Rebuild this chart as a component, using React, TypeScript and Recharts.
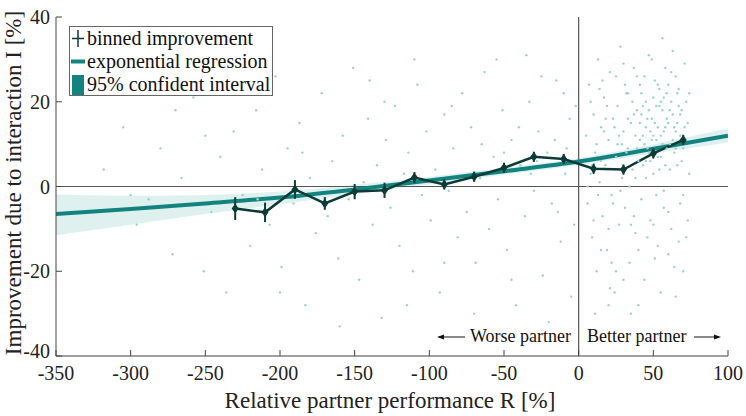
import React from "react";
import {
  Area,
  ComposedChart,
  ErrorBar,
  Line,
  ReferenceLine,
  Scatter,
  XAxis,
  YAxis,
} from "recharts";

const FONT =
  '"Liberation Serif", "DejaVu Serif", "Noto Serif", "FreeSerif", "Nimbus Roman", "Times New Roman", Times, serif';
const TEAL = "#12837f";
const DARK = "#0c3b37";
const DOT = "#9fd1cc";
const BAND = "#d8eeec";

const xTicks = [-350, -300, -250, -200, -150, -100, -50, 0, 50, 100];
const yTicks = [-40, -20, 0, 20, 40];

// binned improvement (bin centre, mean, error)
const binX = [-230, -210, -190, -170, -150, -130, -110, -90, -70, -50, -30, -10, 10, 30, 50, 70];
const binY = [-5.2, -6.1, -0.7, -4.0, -1.2, -0.9, 2.1, 0.5, 2.3, 4.4, 7.0, 6.5, 4.2, 4.0, 7.8, 11.0];
const binErr = [2.7, 2.3, 2.2, 1.5, 1.8, 1.8, 1.3, 1.2, 1.2, 1.2, 1.2, 1.2, 1.2, 1.2, 1.2, 1.2];

// regression curve and its 95% band
const fitX = [-350, -300, -250, -200, -150, -100, -50, 0, 50, 100];
const fitY = [-6.5, -5.3, -4.0, -2.6, -0.7, 1.4, 3.6, 5.9, 8.9, 12.0];
const bandLow = [-11.5, -9.0, -6.5, -4.2, -1.8, 0.5, 2.8, 5.1, 7.8, 10.4];
const bandHigh = [-1.9, -2.2, -2.0, -1.2, 0.4, 2.3, 4.4, 6.7, 10.0, 13.7];

// individual pairs (x, y)
const samples: [number, number][] = [
  [-318, 4], [-305, 14], [-296, -9], [-288, -3], [-280, 9], [-272, -16], [-266, 2], [-258, 21],
  [-251, -20], [-246, -6], [-240, 7], [-236, -25], [-231, 13], [-225, -2], [-220, -14], [-216, 18],
  [-212, 4], [-207, -9], [-203, 26], [-199, -19], [-195, 9], [-191, -4], [-187, 15], [-183, -28],
  [-180, 2], [-176, -11], [-172, 22], [-168, -7], [-165, 6], [-161, -17], [-158, 12], [-154, -3],
  [-151, 28], [-147, -22], [-144, 1], [-141, 16], [-138, -9], [-135, 5], [-132, -31], [-129, 11],
  [-126, -5], [-123, 19], [-120, -14], [-117, 3], [-114, 8], [-111, -20], [-108, 24], [-105, -2],
  [-102, 13], [-99, -8], [-96, 4], [-93, -25], [-90, 17], [-87, -1], [-84, 9], [-81, -12],
  [-78, 22], [-75, -6], [-72, 14], [-69, -18], [-66, 2], [-63, 27], [-60, -10], [-57, 7],
  [-54, -3], [-51, 18], [-48, -15], [-45, 11], [-42, -28], [-39, 5], [-36, -7], [-33, 20],
  [-30, -1], [-27, 13], [-24, -21], [-21, 8], [-18, -4], [-15, 25], [-12, -13], [-9, 3],
  [-6, 16], [-3, -9], [-55, 30], [-35, 31], [-20, -32], [-70, -30], [-110, 30], [-160, -33],
  [-250, 12], [-200, -25], [-140, 25], [-90, -18], [-45, -22], [-25, 26], [-10, 22], [-5, -26],
  [-65, 10], [-85, 19], [-115, -28], [-130, 20], [-185, 8], [-215, -3], [-300, -2], [-270, 18],
  [-40, 14], [-28, 6], [-16, 11], [-8, 9], [-2, 19], [-14, -6], [-32, 3], [-50, 8],
  [5, 12], [6, -4], [7, 24], [8, 3], [9, -12], [10, 17], [11, 8], [12, -20], [13, 30], [14, 1],
  [15, 14], [16, -7], [17, 21], [18, 5], [19, -15], [20, 11], [21, 27], [22, -2], [23, 16],
  [24, -25], [25, 7], [26, 19], [27, -9], [28, 33], [29, 2], [30, 13], [31, -5], [32, 22],
  [33, 9], [34, -18], [35, 15], [36, 4], [37, 28], [38, -11], [39, 18], [40, 6], [41, 24],
  [42, -3], [43, 12], [44, -22], [45, 20], [46, 9], [47, 31], [48, -8], [49, 16], [50, 3],
  [51, 25], [52, 11], [53, -14], [54, 19], [55, 7], [56, 35], [57, -1], [58, 14], [59, 22],
  [60, -6], [61, 10], [62, 27], [63, 17], [64, -19], [65, 13], [66, 5], [67, 23], [68, -4],
  [69, 18], [70, 9], [71, 29], [72, -12], [73, 15], [74, 3],
  [8, 20], [12, 10], [16, 25], [20, -10], [24, 14], [28, -1], [32, 8], [36, 20], [40, -28],
  [44, 26], [48, 13], [52, -2], [56, 18], [60, 24], [64, 8], [68, 12], [72, 20], [6, 0],
  [10, -8], [14, 23], [18, 16], [22, -18], [26, 10], [30, 29], [34, 0], [38, 12], [42, 17],
  [46, -12], [50, 21], [54, 4], [58, 28], [62, -10], [66, 15], [70, -2], [74, 22],
  [9, 5], [13, -2], [17, 13], [21, -24], [25, 26], [29, 10], [33, 16], [37, -7], [41, 11],
  [45, 2], [49, 30], [53, 14], [57, 21], [61, 4], [65, 26], [69, 6], [73, -8], [11, -30],
  [15, 6], [19, 19], [23, -4], [27, 12], [31, 24], [35, -9], [39, 26], [43, 5], [47, 18],
  [51, -17], [55, 12], [59, 9], [63, 32], [67, -13], [71, 14], [44, 10], [46, 16], [48, 6],
  [52, 19], [54, 23], [56, 10], [58, 5], [60, 15], [62, 20], [64, 14], [66, 22], [68, 17],
  [50, 12], [45, 14], [42, 22], [38, 2], [55, -25], [35, -30], [25, -20], [65, -26], [30, -22],
  [60, -16], [40, -15], [20, -28], [70, -20], [15, -15], [50, -9], [57, -5],
  [47, 8], [49, 11], [53, 7], [51, 15], [43, 19], [41, 15], [39, 9], [61, 18], [63, 11],
  [59, 16], [55, 20], [57, 13], [45, 6], [53, 24], [37, 17], [33, 22], [65, 9], [67, 19],
];

const binned = binX.map((x, i) => ({ x, y: binY[i], err: binErr[i] }));
const fit = fitX.map((x, i) => ({ x, fit: fitY[i], band: [bandLow[i], bandHigh[i]] }));
const points = samples.map(([x, y]) => ({ x, s: y }));

const tickStyle = { fontSize: 20, fill: "#222", fontFamily: FONT };

// y tick labels; the lowest one sits a little higher so it clears the x labels
const YTick = (props: any) => {
  const { x, y, payload } = props;
  const shift = payload.value === -40 ? -5 : 0;
  return (
    <text x={x} y={y + shift} dy="0.355em" textAnchor="end" {...tickStyle}>
      {payload.value}
    </text>
  );
};

const Diamond = (props: any) => {
  const { cx, cy } = props;
  if (cx == null || cy == null) return null;
  return <polygon points={`${cx},${cy - 5} ${cx + 3.5},${cy} ${cx},${cy + 5} ${cx - 3.5},${cy}`} fill={DARK} />;
};

const Dot = (props: any) => <circle cx={props.cx} cy={props.cy} r={1.2} fill={DOT} />;

function LegendBox() {
  const row = { height: 23, display: "flex", alignItems: "center" } as const;
  return (
    <div
      style={{
        position: "absolute",
        left: 69,
        top: 26,
        width: 202,
        height: 68,
        border: "1px solid #666",
        background: "#fff",
        fontFamily: FONT,
        fontSize: 20,
        color: "#111",
        lineHeight: "23px",
        whiteSpace: "nowrap",
      }}
    >
      <div style={row}>
        <svg width={17} height={23}>
          <line x1={8} x2={8} y1={3} y2={20} stroke={DARK} strokeWidth={1.5} />
          <line x1={2} x2={14} y1={11.5} y2={11.5} stroke={DARK} strokeWidth={1.5} />
        </svg>
        <span>binned improvement</span>
      </div>
      <div style={row}>
        <svg width={17} height={23}>
          <line x1={1} x2={15} y1={11.5} y2={11.5} stroke={TEAL} strokeWidth={4} />
        </svg>
        <span>exponential regression</span>
      </div>
      <div style={row}>
        <svg width={17} height={23}>
          <rect x={2} y={2} width={12} height={20} fill={TEAL} />
        </svg>
        <span>95% confident interval</span>
      </div>
    </div>
  );
}

export default function App() {
  return (
    <div style={{ position: "absolute", left: 0, top: 0, width: 746, height: 416, background: "#fff" }}>
      <ComposedChart width={746} height={416} margin={{ top: 17, right: 18, bottom: 0, left: 0 }}>
        <XAxis
          dataKey="x"
          type="number"
          domain={[-350, 100]}
          ticks={xTicks}
          allowDataOverflow
          height={60}
          tickSize={-6}
          tickMargin={16}
          stroke="#444"
          tick={tickStyle}
        />
        <XAxis
          xAxisId="top"
          orientation="top"
          dataKey="x"
          type="number"
          domain={[-350, 100]}
          ticks={xTicks}
          allowDataOverflow
          height={0}
          tickSize={-6}
          tickFormatter={() => ""}
          stroke="#444"
        />
        <YAxis
          type="number"
          domain={[-40, 40]}
          ticks={yTicks}
          allowDataOverflow
          width={56}
          tickSize={-6}
          tickMargin={12}
          stroke="#444"
          tick={<YTick />}
        />
        <YAxis
          yAxisId="right"
          orientation="right"
          type="number"
          domain={[-40, 40]}
          ticks={yTicks}
          allowDataOverflow
          width={0}
          tickSize={-6}
          tickFormatter={() => ""}
          stroke="#444"
        />
        <Scatter data={points} dataKey="s" shape={Dot} isAnimationActive={false} />
        <Area
          data={fit}
          dataKey="band"
          type="monotone"
          fill={BAND}
          fillOpacity={0.85}
          stroke="none"
          isAnimationActive={false}
        />
        <ReferenceLine y={0} stroke="#555" strokeWidth={1.2} />
        <ReferenceLine x={0} stroke="#555" strokeWidth={1.2} />
        <Line
          data={fit}
          dataKey="fit"
          type="monotone"
          stroke={TEAL}
          strokeWidth={4}
          dot={false}
          isAnimationActive={false}
        />
        <Line
          data={binned}
          dataKey="y"
          type="linear"
          stroke={DARK}
          strokeWidth={2.5}
          dot={<Diamond />}
          isAnimationActive={false}
        >
          <ErrorBar dataKey="err" direction="y" width={0} stroke={DARK} strokeWidth={2} />
        </Line>
      </ComposedChart>
      <svg
        width={746}
        height={416}
        style={{ position: "absolute", left: 0, top: 0, pointerEvents: "none", fontFamily: FONT }}
      >
        <text x={390} y={408} textAnchor="middle" fontSize={23} fill="#222">
          Relative partner performance R [%]
        </text>
        <text x={0} y={0} transform="translate(21,183) rotate(-90)" textAnchor="middle" fontSize={23} fill="#222">
          Improvement due to interaction I [%]
        </text>
        <text x={571} y={342} textAnchor="end" fontSize={18} fill="#111">
          Worse partner
        </text>
        <line x1={439} x2={465} y1={337} y2={337} stroke="#111" strokeWidth={1} />
        <polygon points="437,337 444,334.5 444,339.5" fill="#111" />
        <text x={587} y={342} fontSize={18} fill="#111">
          Better partner
        </text>
        <line x1={694} x2={719} y1={337} y2={337} stroke="#111" strokeWidth={1} />
        <polygon points="721,337 714,334.5 714,339.5" fill="#111" />
      </svg>
      <LegendBox />
    </div>
  );
}
